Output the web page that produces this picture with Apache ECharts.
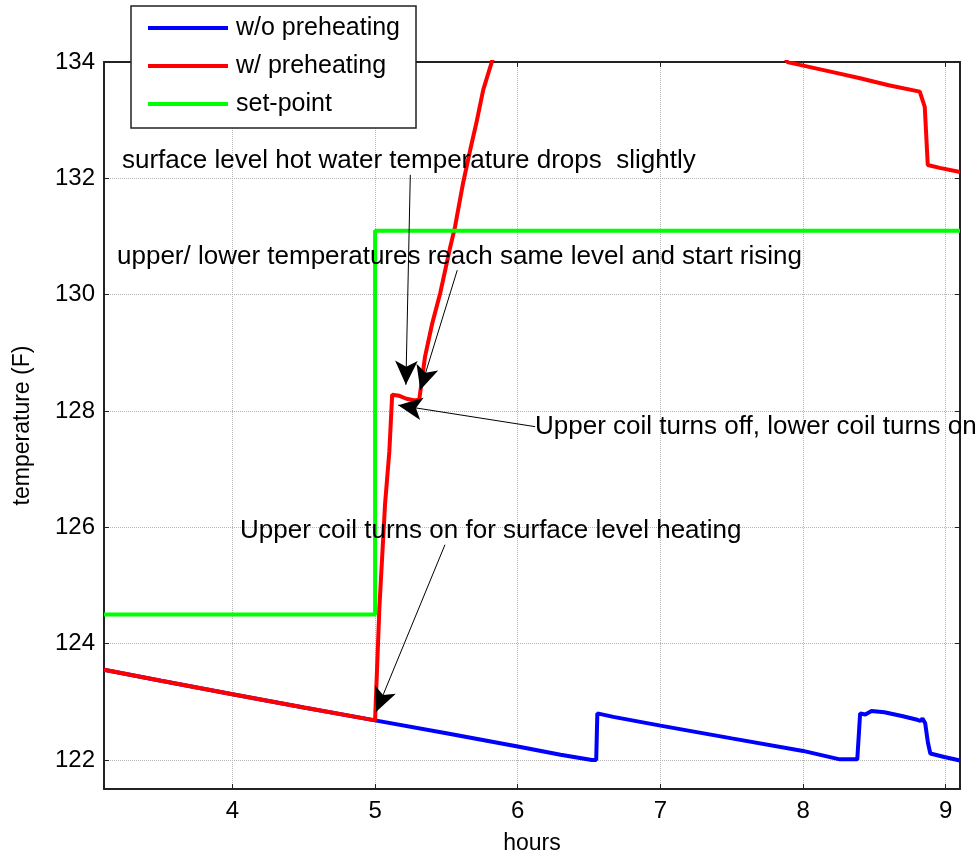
<!DOCTYPE html>
<html>
<head>
<meta charset="utf-8">
<script src="https://cdn.jsdelivr.net/npm/echarts@6/dist/echarts.min.js"></script>
<style>
html,body{margin:0;padding:0;background:#fff;}
#chart{width:979px;height:860px;}
</style>
</head>
<body>
<div id="chart"></div>
<script>
// ---- data ----
const xTicks = [4, 5, 6, 7, 8, 9];
const yTicks = [122, 124, 126, 128, 130, 132, 134];
const seriesNames = ['w/o preheating', 'w/ preheating', 'set-point'];

const withoutPreheat = [
  [3.1,123.55],[3.5,123.36],[4.0,123.13],[4.5,122.90],[5.0,122.68],
  [5.5,122.46],[6.0,122.23],[6.3,122.09],[6.52,122.0],[6.55,122.0],
  [6.558,122.80],[6.67,122.74],[7.0,122.59],[7.5,122.37],[8.0,122.155],
  [8.257,122.01],[8.38,122.01],[8.40,122.80],[8.436,122.78],[8.48,122.84],
  [8.57,122.82],[8.70,122.75],[8.80,122.69],[8.823,122.67],[8.837,122.71],
  [8.856,122.63],[8.875,122.30],[8.892,122.11],[8.99,122.05],[9.1,121.99]
];

const withPreheat = [
  [3.1,123.55],[3.5,123.36],[4.0,123.13],[4.5,122.90],[5.0,122.68],
  [5.03,124.6],[5.07,126.4],[5.10,127.3],[5.12,128.28],[5.17,128.26],
  [5.22,128.21],[5.28,128.18],[5.31,128.20],[5.35,128.93],[5.40,129.5],
  [5.457,130.03],[5.527,130.82],[5.56,131.16],[5.617,131.92],[5.667,132.49],
  [5.71,132.95],[5.758,133.52],[5.818,134.0],[5.86,134.3],[7.85,134.2],
  [7.89,134.0],[7.978,133.95],[8.2,133.83],[8.4,133.72],[8.6,133.60],
  [8.818,133.49],[8.853,133.23],[8.874,132.23],[8.958,132.18],[9.1,132.11]
];

const setPoint = [[3.1,124.5],[5.0,124.5],[5.0,131.1],[9.1,131.1]];

// annotation arrows: [start, tip] in data coordinates
const arrows = [
  [[5.247,132.06],[5.216,128.45]],
  [[5.576,130.42],[5.317,128.36]],
  [[6.122,127.73],[5.162,128.10]],
  [[5.49,125.70],[5.008,122.83]]
];

const notes = [
  'surface level hot water temperature drops  slightly',
  'upper/ lower temperatures reach same level and start rising',
  'Upper coil turns off, lower coil turns on',
  'Upper coil turns on for surface level heating'
];

// ---- chart ----
const FONT = '"Liberation Sans", Arial, sans-serif';
const chart = echarts.init(document.getElementById('chart'), null, {renderer:'canvas'});
const axisLineStyle = {color:'#222', width:2};
const gridLineStyle = {type:'dotted', color:'#b4b4b4', width:1};

chart.setOption({
  animation:false,
  backgroundColor:'#fff',
  grid:{left:104, right:19, top:62, bottom:70, containLabel:false},
  legend:{
    data:seriesNames, orient:'vertical', left:131, top:6,
    icon:'rect', itemWidth:80, itemHeight:4, itemGap:12,
    padding:[9,16,11,17],
    backgroundColor:'#fff', borderColor:'#222', borderWidth:1.5,
    textStyle:{fontSize:25, lineHeight:26, color:'#000', fontFamily:FONT, padding:[0,0,0,3]},
    selectedMode:false, z:10
  },
  xAxis:[{
    type:'value', min:3.1, max:9.1, position:'bottom',
    axisLine:{show:true, onZero:false, lineStyle:axisLineStyle},
    axisTick:{show:true, inside:true, length:5, customValues:xTicks, lineStyle:{color:'#222'}},
    axisLabel:{customValues:xTicks, fontSize:24, margin:10, color:'#000', fontFamily:FONT},
    splitLine:{show:true, lineStyle:gridLineStyle},
    name:'hours', nameLocation:'middle', nameGap:43,
    nameTextStyle:{fontSize:23, color:'#000', fontFamily:FONT}
  },{
    type:'value', min:3.1, max:9.1, position:'top',
    axisLine:{show:true, onZero:false, lineStyle:axisLineStyle},
    axisTick:{show:true, inside:true, length:5, customValues:xTicks, lineStyle:{color:'#222'}},
    axisLabel:{show:false}, splitLine:{show:false}
  }],
  yAxis:[{
    type:'value', min:121.5, max:134, position:'left',
    axisLine:{show:true, onZero:false, lineStyle:axisLineStyle},
    axisTick:{show:true, inside:true, length:5, customValues:yTicks, lineStyle:{color:'#222'}},
    axisLabel:{customValues:yTicks, fontSize:24, margin:9, color:'#000', fontFamily:FONT},
    splitLine:{show:true, lineStyle:gridLineStyle},
    name:'temperature (F)', nameLocation:'middle', nameGap:70, nameRotate:90,
    nameTextStyle:{fontSize:23, color:'#000', fontFamily:FONT}
  },{
    type:'value', min:121.5, max:134, position:'right',
    axisLine:{show:true, onZero:false, lineStyle:axisLineStyle},
    axisTick:{show:true, inside:true, length:5, customValues:yTicks, lineStyle:{color:'#222'}},
    axisLabel:{show:false}, splitLine:{show:false}
  }],
  series:[
    {name:seriesNames[0], type:'line', data:withoutPreheat, showSymbol:false, symbol:'none',
     lineStyle:{color:'#0000ff', width:4}, itemStyle:{color:'#0000ff'}, clip:true, z:2},
    {name:seriesNames[1], type:'line', data:withPreheat, showSymbol:false, symbol:'none',
     lineStyle:{color:'#ff0000', width:4}, itemStyle:{color:'#ff0000'}, clip:true, z:3},
    {name:seriesNames[2], type:'line', data:setPoint, showSymbol:false, symbol:'none',
     lineStyle:{color:'#00ff00', width:4}, itemStyle:{color:'#00ff00'}, clip:true, z:4},
    {name:'annotations', type:'line', data:[], symbol:'none', silent:true, z:6, clip:false,
     markLine:{
       silent:true, symbol:['none','arrow'], symbolSize:22,
       lineStyle:{color:'#000', width:1, type:'solid'},
       itemStyle:{color:'#000'},
       label:{show:false}, emphasis:{disabled:true},
       data:arrows.map(a => [
         {coord:a[0], symbol:'none'},
         {coord:a[1], symbol:'arrow', symbolSize:[17,24], itemStyle:{color:'#000'}}
       ])
     }}
  ],
  graphic:[
    {type:'text', left:122, top:148, z:20, style:{text:notes[0], font:'26px ' + FONT, fill:'#000'}},
    {type:'text', left:117, top:244, z:20, style:{text:notes[1], font:'26px ' + FONT, fill:'#000'}},
    {type:'text', left:535, top:414, z:20, style:{text:notes[2], font:'26px ' + FONT, fill:'#000'}},
    {type:'text', left:240, top:518, z:20, style:{text:notes[3], font:'26px ' + FONT, fill:'#000'}}
  ]
});
</script>
</body>
</html>
